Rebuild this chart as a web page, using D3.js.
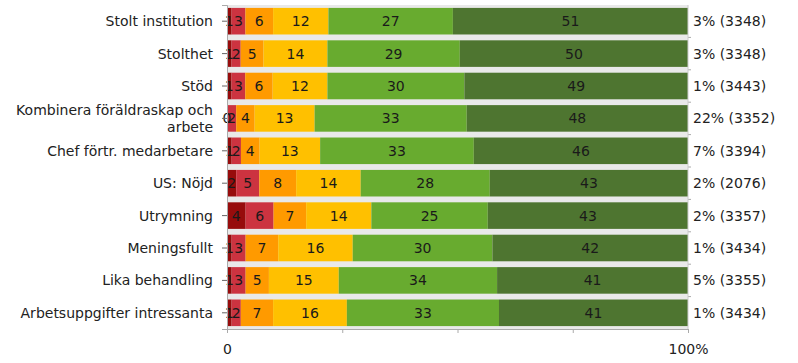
<!DOCTYPE html>
<html>
<head>
<meta charset="utf-8">
<script src="https://cdn.jsdelivr.net/npm/d3@7"></script>
<style>
  body { margin: 0; background: #fff; }
  text { font-family: "DejaVu Sans", Verdana, sans-serif; }
</style>
</head>
<body>
<div id="chart"></div>
<script>
// categories (top to bottom)
var categories = ["Stolt institution", "Stolthet", "Stöd", "Kombinera föräldraskap och arbete",
  "Chef förtr. medarbetare", "US: Nöjd", "Utrymning", "Meningsfullt", "Lika behandling",
  "Arbetsuppgifter intressanta"]

// series values (percent, rounded), one array per answer level
var level1 = [1, 1, 1, 0, 1, 2, 4, 1, 1, 1]
var level2 = [3, 2, 3, 2, 2, 5, 6, 3, 3, 2]
var level3 = [6, 5, 6, 4, 4, 8, 7, 7, 5, 7]
var level4 = [12, 14, 12, 13, 13, 14, 14, 16, 15, 16]
var level5 = [27, 29, 30, 33, 33, 28, 25, 30, 34, 33]
var level6 = [51, 50, 49, 48, 46, 43, 43, 42, 41, 41]

// right-hand notes: missing share and n
var missing = ["3%", "3%", "1%", "22%", "7%", "2%", "2%", "1%", "5%", "1%"]
var counts = [3348, 3348, 3443, 3352, 3394, 2076, 3357, 3434, 3355, 3434]

var colors = ["#970c0c", "#cc3340", "#ff9a00", "#ffc000", "#68ab2f", "#4e7530"]

var margin = {top: 5, right: 110, bottom: 34, left: 227}
var width = 798 - margin.left - margin.right
var height = 363 - margin.top - margin.bottom

var series = [level1, level2, level3, level4, level5, level6]

var svg = d3.select("#chart")
  .append("svg")
    .attr("width", 798)
    .attr("height", 363)
  .append("g")
    .attr("transform", "translate(" + margin.left + "," + margin.top + ")")

var xScale = d3.scaleLinear().domain([0, 100]).range([0, width])
var yScale = d3.scaleBand().domain(categories).range([0, height]).paddingInner(0.18).paddingOuter(0.09)

// plot background
svg.append("rect")
  .attr("width", width)
  .attr("height", height)
  .attr("fill", "#e9e9e9")

// build stacked rows, each row scaled to 100% (labels are rounded values)
var rows = categories.map(function(c, i) {
  var total = d3.sum(series, function(s) { return s[i] })
  var x0 = 0
  return series.map(function(s, k) {
    var share = s[i] / total * 100
    var seg = {cat: c, k: k, v: s[i], x0: x0, x1: x0 + share}
    x0 += share
    return seg
  })
})
var segs = [].concat.apply([], rows)

svg.selectAll("rect.seg")
  .data(segs)
  .enter()
  .append("rect")
  .attr("class", "seg")
  .attr("x", function(d) { return xScale(d.x0) })
  .attr("width", function(d) { return xScale(d.x1) - xScale(d.x0) })
  .attr("y", function(d) { return yScale(d.cat) })
  .attr("height", yScale.bandwidth())
  .attr("fill", function(d) { return colors[d.k] })

svg.selectAll("text.val")
  .data(segs)
  .enter()
  .append("text")
  .attr("class", "val")
  .attr("x", function(d) { return xScale((d.x0 + d.x1) / 2) })
  .attr("y", function(d) { return yScale(d.cat) + yScale.bandwidth() / 2 })
  .attr("dy", "0.36em")
  .attr("text-anchor", "middle")
  .attr("font-size", 14)
  .attr("fill", "#1a1a1a")
  .text(function(d) { return d.v })

// x axis
var xAxis = svg.append("g")
  .attr("transform", "translate(0," + height + ")")
  .call(d3.axisBottom(xScale).tickValues([0, 25, 50, 75, 100]).tickSize(4)
    .tickFormat(function(d) { return d == 0 ? "0" : d == 100 ? "100%" : "" }))
xAxis.select(".domain").attr("stroke", "#aaa")
xAxis.selectAll(".tick line").attr("stroke", "#aaa")
xAxis.selectAll(".tick text").attr("font-size", 14).attr("font-family", "DejaVu Sans")
  .attr("fill", "#222").attr("dy", "1.25em")

// left axis
var yAxis = svg.append("g")
  .call(d3.axisLeft(yScale).tickSize(5).tickPadding(4))
yAxis.select(".domain").attr("stroke", "#aaa")
yAxis.selectAll(".tick line").attr("stroke", "#666")
yAxis.selectAll(".tick text").remove()

// category labels, wrapping the long one
var wrap = {"Kombinera föräldraskap och arbete": ["Kombinera föräldraskap och", "arbete"]}
svg.selectAll("text.cat")
  .data(categories)
  .enter()
  .append("text")
  .attr("class", "cat")
  .attr("text-anchor", "end")
  .attr("font-size", 14)
  .attr("fill", "#222")
  .each(function(c) {
    var lines = wrap[c] || [c]
    var cy = yScale(c) + yScale.bandwidth() / 2
    var t = d3.select(this)
    lines.forEach(function(l, j) {
      t.append("tspan")
        .attr("x", -14)
        .attr("y", cy + (j - (lines.length - 1) / 2) * 17)
        .attr("dy", "0.36em")
        .text(l)
    })
  })

// right ticks at band edges
var edges = categories.map(function(c) { return yScale(c) - yScale.step() * yScale.paddingInner() / 2 })
svg.selectAll("line.rt")
  .data(edges.slice(1))
  .enter()
  .append("line")
  .attr("x1", width).attr("x2", width + 3)
  .attr("y1", function(d) { return d }).attr("y2", function(d) { return d })
  .attr("stroke", "#aaa")
svg.append("line")
  .attr("x1", width).attr("x2", width)
  .attr("y1", 0).attr("y2", height)
  .attr("stroke", "#ccc")

// right notes
svg.selectAll("text.note")
  .data(categories)
  .enter()
  .append("text")
  .attr("class", "note")
  .attr("x", width + 5)
  .attr("y", function(c) { return yScale(c) + yScale.bandwidth() / 2 })
  .attr("dy", "0.36em")
  .attr("font-size", 14)
  .attr("fill", "#222")
  .text(function(c, i) { return missing[i] + " (" + counts[i] + ")" })
</script>
</body>
</html>
